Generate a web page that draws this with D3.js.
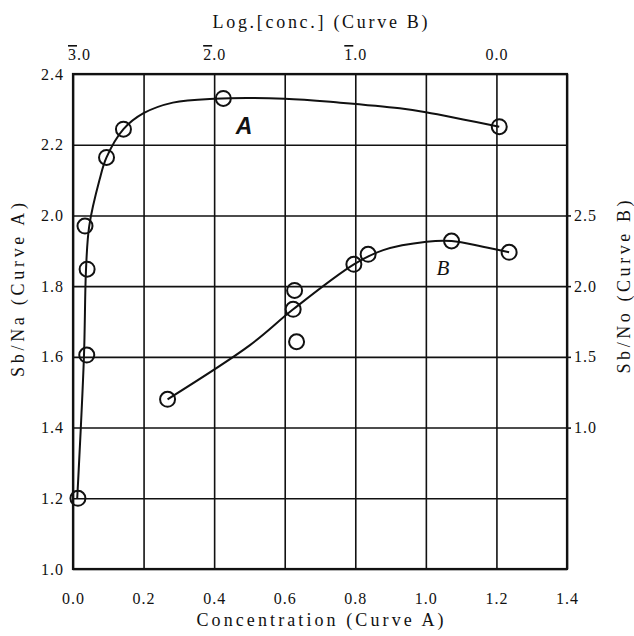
<!DOCTYPE html>
<html>
<head>
<meta charset="utf-8">
<script src="https://cdn.jsdelivr.net/npm/d3@7"></script>
<style>
  body { margin: 0; background: #fff; }
  svg { display: block; }
</style>
</head>
<body>
<svg id="chart" width="634" height="636"></svg>
<script>
// Curve A: concentration vs Sb/Na (bottom + left axes)
const concTicks = [0.0, 0.2, 0.4, 0.6, 0.8, 1.0, 1.2, 1.4];
const ratioATicks = [1.0, 1.2, 1.4, 1.6, 1.8, 2.0, 2.2, 2.4];
const curveAConc = [0.014, 0.039, 0.040, 0.034, 0.095, 0.143, 0.426, 1.208];
const curveARatio = [1.20, 1.605, 1.848, 1.97, 2.164, 2.244, 2.331, 2.251];
// smooth line drawn through curve A
const lineAConc = [0.012, 0.031, 0.037, 0.046, 0.075, 0.095, 0.143, 0.20, 0.283, 0.40, 0.60, 0.757, 0.926, 1.0, 1.208];
const lineARatio = [1.20, 1.60, 1.85, 1.97, 2.10, 2.164, 2.244, 2.289, 2.319, 2.330, 2.330, 2.319, 2.303, 2.292, 2.251];

// Curve B: log[conc] vs Sb/No (top + right axes)
const logTicks = [-3, -2, -1, 0];
const logTickBars = ["3", "2", "1", null];
const ratioBTicks = [1.0, 1.5, 2.0, 2.5];
const curveBLog = [-2.33, -1.43, -1.44, -1.416, -1.01, -0.909, -0.318, 0.09];
const curveBRatio = [1.20, 1.97, 1.836, 1.607, 2.154, 2.225, 2.319, 2.239];
const lineBLog = [-2.33, -1.746, -1.44, -1.01, -0.802, -0.495, -0.318, -0.096, 0.09];
const lineBRatio = [1.20, 1.583, 1.836, 2.154, 2.255, 2.314, 2.319, 2.279, 2.239];

document.addEventListener("DOMContentLoaded", () => {
    const svg = d3.select("#chart");
    const width = 634;
    const height = 636;
    const margin = { top: 74, right: 67, bottom: 67, left: 73 };
    const plotW = width - margin.left - margin.right;
    const plotH = height - margin.top - margin.bottom;
    const ink = "#111";
    const serif = "'Liberation Serif', 'DejaVu Serif', serif";

    const xConc = d3.scaleLinear().domain([0, 1.4]).range([margin.left, width - margin.right]);
    const yA = d3.scaleLinear().domain([1.0, 2.4]).range([height - margin.bottom, margin.top]);
    const xLog = d3.scaleLinear().domain([-3, 0.5]).range([margin.left, width - margin.right]);
    const yB = d3.scaleLinear().domain([0, 3.5]).range([height - margin.bottom, margin.top]);

    const styleText = g => g.attr("font-family", serif).attr("font-size", 16)
        .selectAll("text").attr("fill", ink).attr("letter-spacing", 1);

    // bottom axis + vertical grid
    svg.append("g")
        .attr("transform", `translate(0,${height - margin.bottom})`)
        .call(d3.axisBottom(xConc).tickValues(concTicks).tickSize(-plotH).tickFormat(d => d.toFixed(1)))
        .call(g => g.select(".domain").remove())
        .call(g => g.selectAll("line").attr("stroke", ink).attr("stroke-width", 1.6))
        .call(styleText)
        .call(g => g.selectAll("text").attr("y", 35).attr("dy", null));

    // left axis + horizontal grid
    svg.append("g")
        .attr("transform", `translate(${margin.left},0)`)
        .call(d3.axisLeft(yA).tickValues(ratioATicks).tickSize(-plotW).tickFormat(d => d.toFixed(1)))
        .call(g => g.select(".domain").remove())
        .call(g => g.selectAll("line").attr("stroke", ink).attr("stroke-width", 1.6))
        .call(styleText)
        .call(g => g.selectAll("text").attr("x", -9).attr("dy", "0.32em"));

    // top log axis (labels only, bar over the characteristic)
    const top = svg.append("g")
        .attr("transform", `translate(0,${margin.top})`)
        .call(d3.axisTop(xLog).tickValues(logTicks).tickSize(0))
        .call(g => g.select(".domain").remove())
        .call(styleText);
    top.selectAll("text")
        .attr("y", -14).attr("dy", null)
        .attr("dx", (d, i) => i === 0 ? 6 : 0)
        .text(null)
        .each(function (d, i) {
            const t = d3.select(this);
            const bar = logTickBars[i];
            if (bar) {
                t.append("tspan").attr("text-decoration", "overline").text(bar);
                t.append("tspan").text(".0");
            } else {
                t.append("tspan").text(Math.abs(d).toFixed(1));
            }
        });

    // right axis for curve B
    svg.append("g")
        .attr("transform", `translate(${width - margin.right},0)`)
        .call(d3.axisRight(yB).tickValues(ratioBTicks).tickSize(4).tickFormat(d => d.toFixed(1)))
        .call(g => g.select(".domain").remove())
        .call(g => g.selectAll("line").attr("stroke", ink).attr("stroke-width", 1.6))
        .call(styleText)
        .call(g => g.selectAll("text").attr("x", 7).attr("dy", "0.32em"));

    // frame
    svg.append("rect")
        .attr("x", margin.left).attr("y", margin.top)
        .attr("width", plotW).attr("height", plotH)
        .attr("fill", "none").attr("stroke", ink).attr("stroke-width", 2.2);

    // axis titles
    svg.append("text")
        .attr("x", 320).attr("y", 28)
        .attr("text-anchor", "middle")
        .attr("font-family", serif).attr("font-size", 18).attr("fill", ink)
        .attr("textLength", 215).attr("lengthAdjust", "spacing")
        .text("Log.[conc.] (Curve B)");

    svg.append("text")
        .attr("x", 320).attr("y", 626)
        .attr("text-anchor", "middle")
        .attr("font-family", serif).attr("font-size", 18).attr("fill", ink)
        .attr("textLength", 247).attr("lengthAdjust", "spacing")
        .text("Concentration (Curve A)");

    svg.append("text")
        .attr("transform", "translate(24,290) rotate(-90)")
        .attr("text-anchor", "middle")
        .attr("font-family", serif).attr("font-size", 18).attr("fill", ink)
        .attr("textLength", 174).attr("lengthAdjust", "spacing")
        .text("Sb/Na (Curve A)");

    svg.append("text")
        .attr("transform", "translate(630,287) rotate(-90)")
        .attr("text-anchor", "middle")
        .attr("font-family", serif).attr("font-size", 18).attr("fill", ink)
        .attr("textLength", 173).attr("lengthAdjust", "spacing")
        .text("Sb/No (Curve B)");

    // curves
    const lineA = d3.line()
        .x(d => xConc(d[0])).y(d => yA(d[1]))
        .curve(d3.curveCatmullRom.alpha(0.5));
    svg.append("path")
        .datum(lineAConc.map((c, i) => [c, lineARatio[i]]))
        .attr("d", lineA)
        .attr("fill", "none").attr("stroke", ink).attr("stroke-width", 2);

    const lineB = d3.line()
        .x(d => xLog(d[0])).y(d => yB(d[1]))
        .curve(d3.curveCatmullRom.alpha(0.5));
    svg.append("path")
        .datum(lineBLog.map((c, i) => [c, lineBRatio[i]]))
        .attr("d", lineB)
        .attr("fill", "none").attr("stroke", ink).attr("stroke-width", 2);

    // open circle markers
    svg.append("g").selectAll("circle")
        .data(curveAConc.map((c, i) => [c, curveARatio[i]]))
        .join("circle")
        .attr("cx", d => xConc(d[0])).attr("cy", d => yA(d[1]))
        .attr("r", 7.5)
        .attr("fill", "none").attr("stroke", ink).attr("stroke-width", 2);

    svg.append("g").selectAll("circle")
        .data(curveBLog.map((c, i) => [c, curveBRatio[i]]))
        .join("circle")
        .attr("cx", d => xLog(d[0])).attr("cy", d => yB(d[1]))
        .attr("r", 7.5)
        .attr("fill", "none").attr("stroke", ink).attr("stroke-width", 2);

    // curve letters
    svg.append("text")
        .attr("x", 244).attr("y", 134)
        .attr("text-anchor", "middle")
        .attr("font-family", "'Liberation Sans', 'DejaVu Sans', sans-serif")
        .attr("font-size", 23).attr("font-weight", "bold").attr("font-style", "italic")
        .attr("fill", ink)
        .text("A");

    svg.append("text")
        .attr("x", 443).attr("y", 275)
        .attr("text-anchor", "middle")
        .attr("font-family", serif)
        .attr("font-size", 21).attr("font-style", "italic")
        .attr("fill", ink)
        .text("B");
});
</script>
</body>
</html>
